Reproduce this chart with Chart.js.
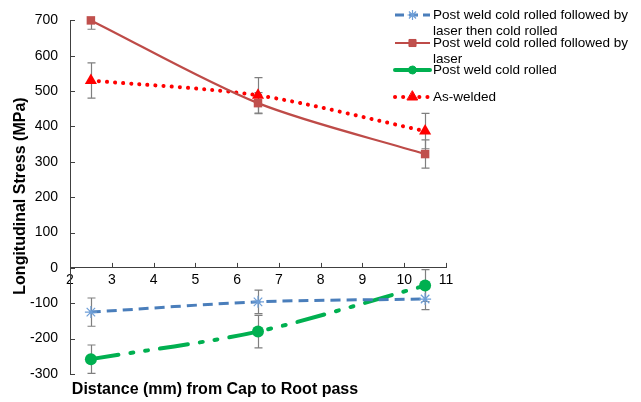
<!DOCTYPE html>
<html>
<head>
<meta charset="utf-8">
<script src="https://cdn.jsdelivr.net/npm/chart.js@4/dist/chart.umd.min.js"></script>
<style>
html,body{margin:0;padding:0;background:#fff;}
#wrap{position:relative;width:641px;height:402px;}
canvas{display:block;}
</style>
</head>
<body>
<div id="wrap"><canvas id="c" width="641" height="402"></canvas></div>
<script>
// ---- data ----
const distances = [2.5, 6.5, 10.5];
const laserThenColdRolled = [-125, -96, -88];
const laserThenColdRolledErr = [40, 33, 30];
const laserFollowed = [700, 466, 322];
const laserFollowedErr = [25, 30, 40];
const coldRolled = [-258, -180, -50];
const coldRolledErr = [40, 46, 45];
const asWelded = [530, 488, 387];
const asWeldedErr = [50, 50, 50];
const xTicks = [2, 3, 4, 5, 6, 7, 8, 9, 10, 11];
const yTicks = [-300, -200, -100, 0, 100, 200, 300, 400, 500, 600, 700];
const seriesNames = [
  ["Post weld cold rolled followed by", "laser then cold rolled"],
  ["Post weld cold rolled followed by", "laser"],
  ["Post weld cold rolled"],
  ["As-welded"]
];
const xTitle = "Distance (mm) from Cap to Root pass";
const yTitle = "Longitudinal Stress (MPa)";

const toPts = ys => distances.map((x, i) => ({x: x, y: ys[i]}));
const FONT = "'Liberation Sans', Arial, sans-serif";

const datasets = [
  {label: seriesNames[0].join(' '), data: toPts(laserThenColdRolled), err: laserThenColdRolledErr,
   borderColor: '#4a7ebb', borderWidth: 3, borderDash: [10, 6], tension: 0.3,
   pointStyle: 'star', pointRadius: 6, pointBorderColor: '#6f9fd8', pointBackgroundColor: '#6f9fd8', pointBorderWidth: 1.2},
  {label: seriesNames[1].join(' '), data: toPts(laserFollowed), err: laserFollowedErr,
   borderColor: '#be4b48', borderWidth: 2.2, tension: 0.3,
   pointStyle: 'rect', pointRadius: 6, pointBorderColor: '#be4b48', pointBackgroundColor: '#c0504d', pointBorderWidth: 0},
  {label: seriesNames[2].join(' '), data: toPts(coldRolled), err: coldRolledErr,
   borderColor: '#00b050', borderWidth: 4, borderDash: [28, 12, 3, 12, 3, 12], borderCapStyle: 'round', tension: 0.3,
   pointStyle: 'circle', pointRadius: 6, pointBorderColor: '#00b050', pointBackgroundColor: '#00b050', pointBorderWidth: 0},
  {label: seriesNames[3].join(' '), data: toPts(asWelded), err: asWeldedErr,
   borderColor: '#ff0000', borderWidth: 4, borderDash: [0.1, 8], borderCapStyle: 'round', tension: 0.3,
   pointStyle: 'triangle', pointRadius: 7, pointBorderColor: '#ff0000', pointBackgroundColor: '#ff0000', pointBorderWidth: 0}
];

const extras = {
  id: 'extras',
  beforeDatasetsDraw(chart) {
    const ctx = chart.ctx, xs = chart.scales.x, ys = chart.scales.y, a = chart.chartArea;
    ctx.save();
    // inward tick marks
    ctx.strokeStyle = '#404040'; ctx.lineWidth = 1;
    const y0 = ys.getPixelForValue(0);
    xTicks.forEach(v => {
      const px = Math.round(xs.getPixelForValue(v)) + 0.5;
      ctx.beginPath(); ctx.moveTo(px, y0); ctx.lineTo(px, y0 - 5); ctx.stroke();
    });
    yTicks.forEach(v => {
      const py = Math.round(ys.getPixelForValue(v)) + 0.5;
      ctx.beginPath(); ctx.moveTo(a.left, py); ctx.lineTo(a.left + 5, py); ctx.stroke();
    });
    // error bars
    ctx.beginPath(); ctx.rect(a.left, a.top, a.right - a.left, a.bottom - a.top); ctx.clip();
    ctx.strokeStyle = '#7f7f7f'; ctx.lineWidth = 1.2;
    chart.data.datasets.forEach(ds => {
      ds.data.forEach((p, i) => {
        const px = Math.round(xs.getPixelForValue(p.x)) + 0.5;
        const hi = ys.getPixelForValue(p.y + ds.err[i]);
        const lo = ys.getPixelForValue(p.y - ds.err[i]);
        ctx.beginPath();
        ctx.moveTo(px, hi); ctx.lineTo(px, lo);
        ctx.moveTo(px - 4, hi); ctx.lineTo(px + 4, hi);
        ctx.moveTo(px - 4, lo); ctx.lineTo(px + 4, lo);
        ctx.stroke();
      });
    });
    ctx.restore();
  },
  afterDraw(chart) {
    const ctx = chart.ctx;
    ctx.save();
    ctx.fillStyle = '#000';
    ctx.font = 'bold 16px ' + FONT;
    ctx.textAlign = 'center'; ctx.textBaseline = 'middle';
    ctx.fillText(xTitle, 215, 390);
    ctx.translate(21, 196); ctx.rotate(-Math.PI / 2);
    ctx.fillText(yTitle, 0, 0);
    ctx.restore();

    // legend
    ctx.save();
    ctx.font = '13.5px ' + FONT;
    ctx.textBaseline = 'middle'; ctx.textAlign = 'left';
    const rowsY = [15, 43, 70, 97];
    const sx0 = 395, sx1 = 430, tx = 433, lh = 16;
    chart.data.datasets.forEach((ds, i) => {
      const y = rowsY[i];
      ctx.save();
      ctx.strokeStyle = ds.borderColor; ctx.lineWidth = ds.borderWidth;
      ctx.lineCap = ds.borderCapStyle || 'butt';
      let dash = ds.borderDash || [];
      if (i === 0) dash = [9, 5];
      if (i === 2) dash = [];
      ctx.setLineDash(dash);
      ctx.beginPath(); ctx.moveTo(sx0, y); ctx.lineTo(sx1, y); ctx.stroke();
      ctx.setLineDash([]);
      ctx.fillStyle = ds.pointBackgroundColor; ctx.strokeStyle = ds.pointBorderColor;
      ctx.lineWidth = ds.pointBorderWidth || 1;
      Chart.helpers.drawPoint(ctx, {
        pointStyle: ds.pointStyle, radius: ds.pointStyle === 'circle' ? 4 : ds.pointRadius - 1,
        rotation: 0, borderWidth: ds.pointBorderWidth || 1
      }, (sx0 + sx1) / 2, y);
      ctx.restore();
      ctx.fillStyle = '#000';
      seriesNames[i].forEach((t, k) => ctx.fillText(t, tx, y + k * lh));
    });
    ctx.restore();
  }
};

new Chart(document.getElementById('c'), {
  type: 'scatter',
  data: {datasets: datasets.map(d => Object.assign({showLine: true, fill: false, clip: false}, d))},
  options: {
    responsive: false, animation: false, devicePixelRatio: 1,
    layout: {padding: {top: 14, right: 195, bottom: 28, left: 0}},
    plugins: {legend: {display: false}, tooltip: {enabled: false}},
    scales: {
      x: {
        type: 'linear', min: 2, max: 11, position: {y: 0},
        afterBuildTicks: s => { s.ticks = xTicks.map(v => ({value: v})); },
        grid: {display: false, drawTicks: false},
        border: {display: true, color: '#404040', width: 1},
        ticks: {padding: 4, color: '#000', font: {family: FONT, size: 14}, callback: v => v}
      },
      y: {
        type: 'linear', min: -300, max: 700,
        afterBuildTicks: s => { s.ticks = yTicks.map(v => ({value: v})); },
        afterFit: s => { s.width = 70; },
        grid: {display: false, drawTicks: false},
        border: {display: true, color: '#404040', width: 1},
        ticks: {padding: 12, color: '#000', font: {family: FONT, size: 14}, callback: v => v}
      }
    }
  },
  plugins: [extras]
});
</script>
</body>
</html>
